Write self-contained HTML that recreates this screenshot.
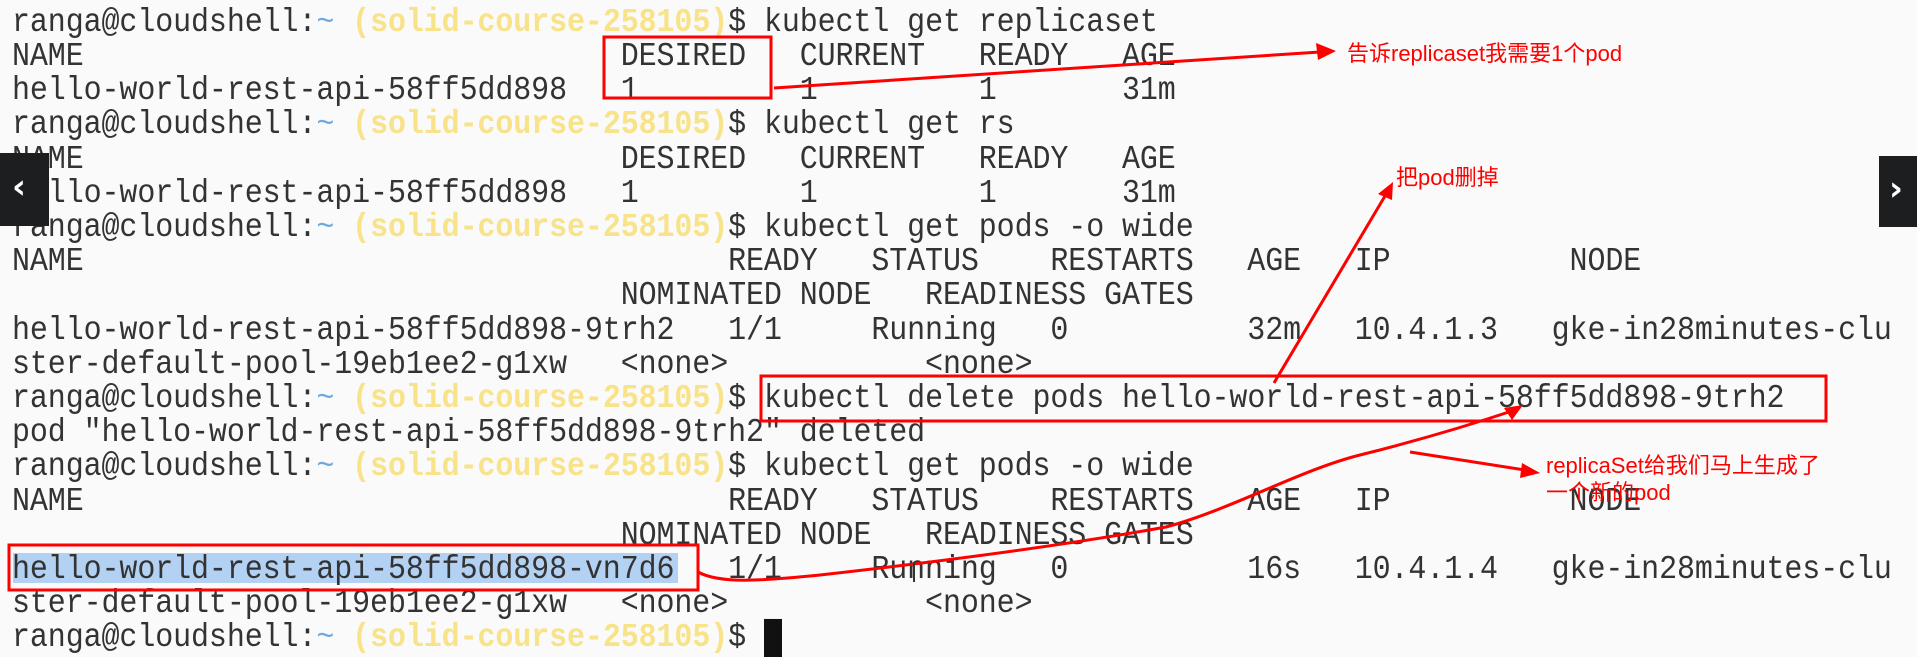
<!DOCTYPE html>
<html><head><meta charset="utf-8"><style>
html,body{margin:0;padding:0;}
body{width:1917px;height:630px;overflow:hidden;background:#fafafa;position:relative;}
.l{position:absolute;left:12px;height:34px;line-height:34px;font-family:"Liberation Mono",monospace;font-size:30px;letter-spacing:-0.1px;color:#333;white-space:pre;transform:scaleY(1.12);transform-origin:0 50%;}
.b{color:#6fa8dc;}
.y{color:#f8e38a;font-weight:bold;}
.hl{position:absolute;left:13px;top:553px;width:665px;height:30px;background:#b3d1f3;}
.nav{position:absolute;background:#1d1e20;}
.nav span{position:absolute;color:#fff;font-family:"DejaVu Sans",sans-serif;font-size:34px;font-weight:bold;}
.ann{position:absolute;color:#ff0000;font-family:"Liberation Sans","Noto Sans CJK SC",sans-serif;font-size:22px;white-space:nowrap;}
</style></head><body>
<div class="hl"></div>
<div class="l" style="top:6px">ranga@cloudshell:<span class="b">~</span> <span class="y">(solid-course-258105)</span>$ kubectl get replicaset</div>
<div class="l" style="top:40px">NAME                              DESIRED   CURRENT   READY   AGE</div>
<div class="l" style="top:74px">hello-world-rest-api-58ff5dd898   1         1         1       31m</div>
<div class="l" style="top:108px">ranga@cloudshell:<span class="b">~</span> <span class="y">(solid-course-258105)</span>$ kubectl get rs</div>
<div class="l" style="top:143px">NAME                              DESIRED   CURRENT   READY   AGE</div>
<div class="l" style="top:177px">hello-world-rest-api-58ff5dd898   1         1         1       31m</div>
<div class="l" style="top:211px">ranga@cloudshell:<span class="b">~</span> <span class="y">(solid-course-258105)</span>$ kubectl get pods -o wide</div>
<div class="l" style="top:245px">NAME                                    READY   STATUS    RESTARTS   AGE   IP          NODE</div>
<div class="l" style="top:279px">                                  NOMINATED NODE   READINESS GATES</div>
<div class="l" style="top:314px">hello-world-rest-api-58ff5dd898-9trh2   1/1     Running   0          32m   10.4.1.3   gke-in28minutes-clu</div>
<div class="l" style="top:348px">ster-default-pool-19eb1ee2-g1xw   &lt;none&gt;           &lt;none&gt;</div>
<div class="l" style="top:382px">ranga@cloudshell:<span class="b">~</span> <span class="y">(solid-course-258105)</span>$ kubectl delete pods hello-world-rest-api-58ff5dd898-9trh2</div>
<div class="l" style="top:416px">pod "hello-world-rest-api-58ff5dd898-9trh2" deleted</div>
<div class="l" style="top:450px">ranga@cloudshell:<span class="b">~</span> <span class="y">(solid-course-258105)</span>$ kubectl get pods -o wide</div>
<div class="l" style="top:485px">NAME                                    READY   STATUS    RESTARTS   AGE   IP          NODE</div>
<div class="l" style="top:519px">                                  NOMINATED NODE   READINESS GATES</div>
<div class="l" style="top:553px">hello-world-rest-api-58ff5dd898-vn7d6   1/1     Running   0          16s   10.4.1.4   gke-in28minutes-clu</div>
<div class="l" style="top:587px">ster-default-pool-19eb1ee2-g1xw   &lt;none&gt;           &lt;none&gt;</div>
<div class="l" style="top:621px">ranga@cloudshell:<span class="b">~</span> <span class="y">(solid-course-258105)</span>$ <span style="background:#111">&nbsp;</span></div>

<div class="nav" style="left:0;top:153px;width:49px;height:73px;"><span style="left:12px;top:14px">&#8249;</span></div>
<div class="nav" style="left:1879px;top:156px;width:38px;height:71px;"><span style="left:10px;top:13px">&#8250;</span></div>

<svg width="1917" height="630" style="position:absolute;left:0;top:0" xmlns="http://www.w3.org/2000/svg">
<g fill="none" stroke="#ff0000" stroke-width="3">
<rect x="604" y="37" width="167" height="61"/>
<rect x="761" y="376" width="1065" height="45"/>
<rect x="9" y="545" width="689" height="45"/>
<line x1="774" y1="88" x2="1320" y2="52"/>
<line x1="1274" y1="383" x2="1385" y2="196"/>
<line x1="1410" y1="452" x2="1525" y2="470"/>
<path d="M698 572 C 720 584, 760 581, 820 575 C 900 566, 1050 548, 1166 527 C 1230 510, 1300 470, 1360 455 C 1420 440, 1470 425, 1515 410" stroke-width="3"/>
</g>
<g fill="#ff0000">
<polygon points="1336,51 1316,43 1318,60"/>
<polygon points="1393,182 1378,194 1392,200"/>
<polygon points="1540,473 1522,463 1520,478"/>
<polygon points="1523,405 1504,408 1512,420"/>
</g>
</svg>
<div class="ann" style="left:1347px;top:36px">告诉replicaset我需要1个pod</div>
<div class="ann" style="left:1396px;top:160px">把pod删掉</div>
<div class="ann" style="left:1546px;top:452px;line-height:27px">replicaSet给我们马上生成了<br>一个新的pod</div>
<div style="position:absolute;left:913px;top:562px;width:2px;height:20px;background:#333"></div>
</body></html>
